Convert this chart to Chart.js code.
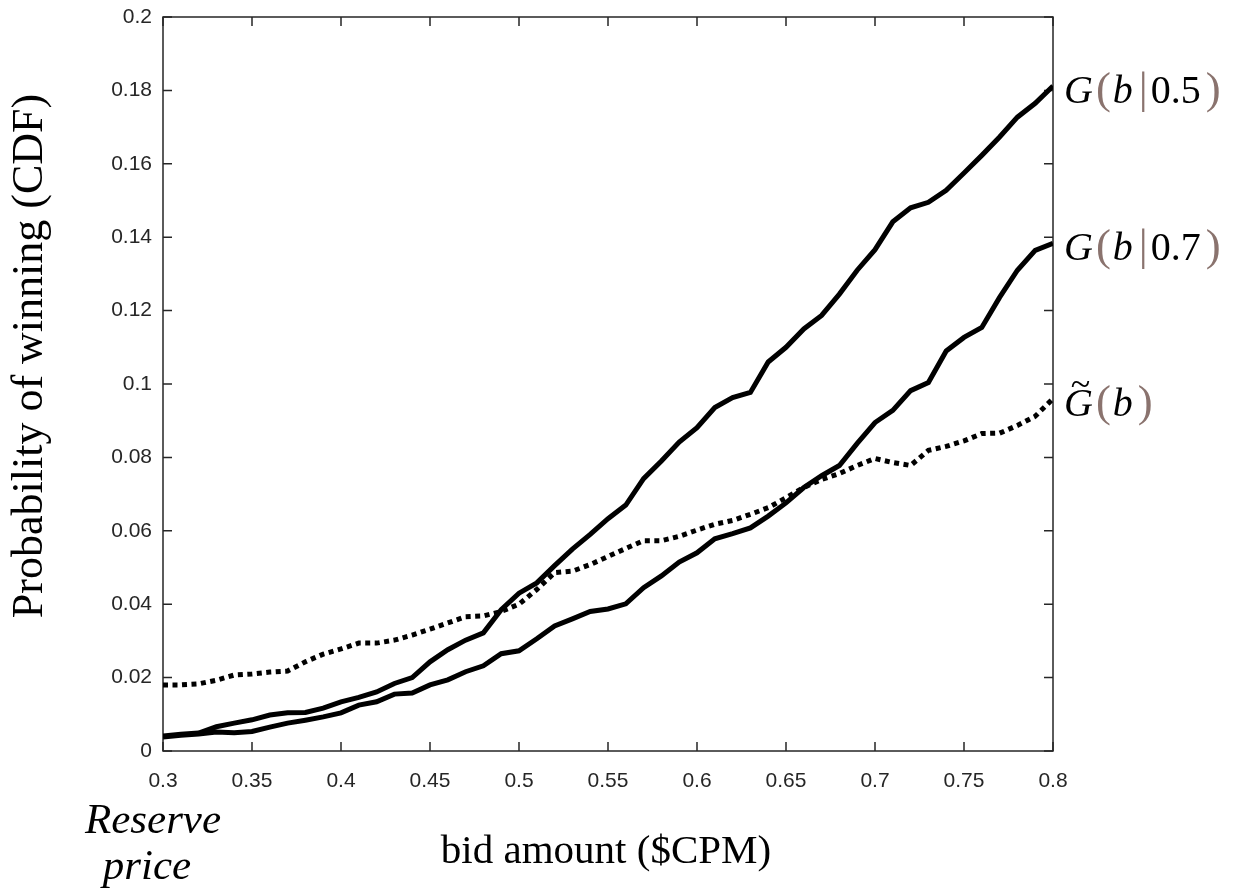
<!DOCTYPE html>
<html>
<head>
<meta charset="utf-8">
<script src="https://cdn.jsdelivr.net/npm/chart.js@4.4.1/dist/chart.umd.min.js"></script>
<style>
  html, body { margin: 0; padding: 0; background: #fff; }
  #wrap { position: relative; width: 1234px; height: 895px; }
</style>
</head>
<body>
<div id="wrap"><canvas id="cdf"></canvas></div>
<script>
// bid amounts ($CPM)
const bids = [0.30, 0.31, 0.32, 0.33, 0.34, 0.35, 0.36, 0.37, 0.38, 0.39,
              0.40, 0.41, 0.42, 0.43, 0.44, 0.45, 0.46, 0.47, 0.48, 0.49,
              0.50, 0.51, 0.52, 0.53, 0.54, 0.55, 0.56, 0.57, 0.58, 0.59,
              0.60, 0.61, 0.62, 0.63, 0.64, 0.65, 0.66, 0.67, 0.68, 0.69,
              0.70, 0.71, 0.72, 0.73, 0.74, 0.75, 0.76, 0.77, 0.78, 0.79, 0.80];

// G(b|0.5)
const g05 = [0.0041, 0.0046, 0.0049, 0.0066, 0.0076, 0.0085, 0.0098, 0.0104, 0.0105, 0.0117,
             0.0134, 0.0146, 0.0161, 0.0184, 0.0200, 0.0243, 0.0276, 0.0302, 0.0322, 0.0385,
             0.0430, 0.0458, 0.0505, 0.0550, 0.0590, 0.0633, 0.0670, 0.0742, 0.0790, 0.0842,
             0.0881, 0.0936, 0.0963, 0.0977, 0.1060, 0.1100, 0.1150, 0.1187, 0.1245, 0.1310,
             0.1366, 0.1442, 0.1480, 0.1495, 0.1528, 0.1575, 0.1623, 0.1673, 0.1727, 0.1765, 0.1812];

// G(b|0.7)
const g07 = [0.0038, 0.0043, 0.0046, 0.0052, 0.0050, 0.0053, 0.0065, 0.0076, 0.0084, 0.0093,
             0.0104, 0.0125, 0.0134, 0.0155, 0.0158, 0.0180, 0.0194, 0.0216, 0.0232, 0.0265,
             0.0273, 0.0306, 0.0341, 0.0360, 0.0380, 0.0387, 0.0401, 0.0445, 0.0477, 0.0515,
             0.0540, 0.0578, 0.0592, 0.0608, 0.0640, 0.0676, 0.0718, 0.0750, 0.0778, 0.0838,
             0.0895, 0.0928, 0.0982, 0.1004, 0.1090, 0.1127, 0.1154, 0.1236, 0.1310, 0.1364, 0.1383];

// G~(b)
const gTilde = [0.0180, 0.0180, 0.0183, 0.0193, 0.0207, 0.0210, 0.0215, 0.0218, 0.0243, 0.0264,
                0.0278, 0.0294, 0.0294, 0.0302, 0.0316, 0.0332, 0.0349, 0.0366, 0.0368, 0.0380,
                0.0400, 0.0440, 0.0486, 0.0490, 0.0508, 0.0530, 0.0552, 0.0573, 0.0573, 0.0585,
                0.0602, 0.0618, 0.0628, 0.0645, 0.0663, 0.0690, 0.0718, 0.0740, 0.0756, 0.0778,
                0.0797, 0.0786, 0.0778, 0.0819, 0.0830, 0.0845, 0.0865, 0.0866, 0.0887, 0.0912, 0.0960];

const xTickLabels = ['0.3', '0.35', '0.4', '0.45', '0.5', '0.55', '0.6', '0.65', '0.7', '0.75', '0.8'];
const yTickLabels = ['0', '0.02', '0.04', '0.06', '0.08', '0.1', '0.12', '0.14', '0.16', '0.18', '0.2'];

const AXIS_COLOR = '#262626';
const PAREN_COLOR = '#8a736e';
const SERIF = '"Liberation Serif", serif';
const SANS = '"Liberation Sans", Arial, sans-serif';

const toPoints = arr => arr.map((v, i) => ({ x: bids[i], y: v }));

// Boîte + graduations vers l'intérieur (style MATLAB)
const framePlugin = {
    id: 'frame',
    beforeDatasetsDraw(chart) {
        const { ctx, chartArea: { left, right, top, bottom }, scales: { x, y } } = chart;
        const tl = 9;
        ctx.save();
        ctx.strokeStyle = AXIS_COLOR;
        ctx.lineWidth = 1.5;
        ctx.strokeRect(left, top, right - left, bottom - top);
        ctx.beginPath();
        x.ticks.forEach(t => {
            const px = x.getPixelForValue(t.value);
            ctx.moveTo(px, bottom); ctx.lineTo(px, bottom - tl);
            ctx.moveTo(px, top); ctx.lineTo(px, top + tl);
        });
        y.ticks.forEach(t => {
            const py = y.getPixelForValue(t.value);
            ctx.moveTo(left, py); ctx.lineTo(left + tl, py);
            ctx.moveTo(right, py); ctx.lineTo(right - tl, py);
        });
        ctx.stroke();
        ctx.restore();
    }
};

// Étiquette de courbe, morceau par morceau (parenthèses plus grandes et grisées)
function drawPieces(ctx, pieces, x, y, size) {
    pieces.forEach(p => {
        const sz = p.paren ? size * 1.12 : size;
        ctx.font = `${p.italic ? 'italic ' : ''}${sz}px ${SERIF}`;
        ctx.fillStyle = p.paren ? PAREN_COLOR : '#000';
        ctx.fillText(p.t, x, y);
        const w = ctx.measureText(p.t).width;
        if (p.tilde) {
            ctx.font = `${size * 0.9}px ${SERIF}`;
            ctx.textAlign = 'center';
            ctx.fillText('~', x + w / 2 + 2, y - size * 0.5);
            ctx.textAlign = 'left';
        }
        x += w + (p.gap || 0);
    });
}

const textPlugin = {
    id: 'texts',
    afterDraw(chart) {
        const { ctx, scales: { y } } = chart;
        ctx.save();
        ctx.textBaseline = 'alphabetic';
        ctx.textAlign = 'left';

        const size = 40;
        const label = (yVal, parts) => drawPieces(ctx, parts, 1064, y.getPixelForValue(yVal) + 17, size);
        label(g05[g05.length - 1], [
            { t: 'G', italic: true, gap: 3 }, { t: '(', paren: true, gap: 2 },
            { t: 'b', italic: true, gap: 6 }, { t: '|', paren: true, gap: 3 },
            { t: '0.5', gap: 5 }, { t: ')', paren: true }
        ]);
        label(g07[g07.length - 1], [
            { t: 'G', italic: true, gap: 3 }, { t: '(', paren: true, gap: 2 },
            { t: 'b', italic: true, gap: 6 }, { t: '|', paren: true, gap: 3 },
            { t: '0.7', gap: 5 }, { t: ')', paren: true }
        ]);
        label(gTilde[gTilde.length - 1], [
            { t: 'G', italic: true, gap: 3, tilde: true }, { t: '(', paren: true, gap: 2 },
            { t: 'b', italic: true, gap: 5 }, { t: ')', paren: true }
        ]);

        // titre axe x
        ctx.fillStyle = '#000';
        ctx.textAlign = 'center';
        ctx.font = `41px ${SERIF}`;
        ctx.fillText('bid amount ($CPM)', 606, 863);

        // titre axe y
        ctx.save();
        ctx.translate(42, 356);
        ctx.rotate(-Math.PI / 2);
        ctx.font = `44px ${SERIF}`;
        ctx.fillText('Probability of winning (CDF)', 0, 0);
        ctx.restore();

        // Reserve price
        ctx.font = `italic 43px ${SERIF}`;
        ctx.fillText('Reserve', 153, 833);
        ctx.fillText('price', 147, 879);
        ctx.restore();
    }
};

const lineStyle = { borderColor: '#000', borderWidth: 5, pointRadius: 0, tension: 0, fill: false };

new Chart(document.getElementById('cdf'), {
    type: 'line',
    data: {
        datasets: [
            { label: 'G(b|0.5)', data: toPoints(g05), ...lineStyle },
            { label: 'G(b|0.7)', data: toPoints(g07), ...lineStyle },
            { label: 'G~(b)', data: toPoints(gTilde), ...lineStyle, borderDash: [5, 4.5] }
        ]
    },
    options: {
        responsive: true,
        maintainAspectRatio: false,
        animation: false,
        devicePixelRatio: 1,
        layout: { padding: { top: 17, right: 181, left: 0, bottom: 0 } },
        plugins: { legend: { display: false }, tooltip: { enabled: false } },
        scales: {
            x: {
                type: 'linear',
                min: 0.3, max: 0.8,
                grid: { display: false },
                border: { display: false },
                ticks: {
                    stepSize: 0.05,
                    padding: 10,
                    maxRotation: 0,
                    color: AXIS_COLOR,
                    font: { family: SANS, size: 21 },
                    callback: (v, i) => xTickLabels[i]
                },
                afterFit: s => { s.height = 144; }
            },
            y: {
                type: 'linear',
                min: 0, max: 0.2,
                grid: { display: false },
                border: { display: false },
                ticks: {
                    stepSize: 0.02,
                    padding: 3,
                    color: AXIS_COLOR,
                    font: { family: SANS, size: 21 },
                    callback: (v, i) => yTickLabels[i]
                },
                afterFit: s => { s.width = 163; }
            }
        }
    },
    plugins: [framePlugin, textPlugin]
});
</script>
</body>
</html>
